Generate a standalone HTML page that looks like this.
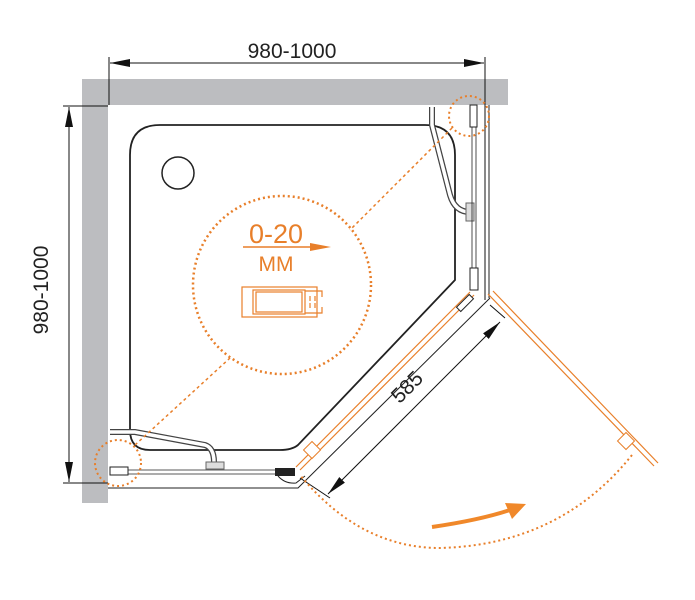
<!DOCTYPE html>
<html><head><meta charset="utf-8"><style>body{margin:0;background:#fff}svg{display:block}</style></head><body>
<svg width="695" height="600" viewBox="0 0 695 600" xmlns="http://www.w3.org/2000/svg" font-family="Liberation Sans, sans-serif">
<defs>
<marker id="a" viewBox="0 0 20 8" refX="20" refY="4" markerWidth="20" markerHeight="8" markerUnits="userSpaceOnUse" orient="auto-start-reverse"><path d="M0,0L20,4L0,8Z" fill="#111"/></marker>
</defs>
<rect x="82" y="79" width="426" height="26" fill="#bcbdc0"/>
<rect x="82" y="79" width="26" height="424" fill="#bcbdc0"/>
<line x1="109" y1="57" x2="109" y2="105" stroke="#111" stroke-width="1"/>
<line x1="485" y1="57" x2="485" y2="300" stroke="#111" stroke-width="1"/>
<line x1="110" y1="63" x2="484" y2="63" stroke="#111" stroke-width="1" marker-start="url(#a)" marker-end="url(#a)"/>
<text x="292" y="58" font-size="21" text-anchor="middle" fill="#222">980-1000</text>
<line x1="63" y1="106" x2="108" y2="106" stroke="#111"/>
<line x1="63" y1="483" x2="108" y2="483" stroke="#111"/>
<line x1="69" y1="107" x2="69" y2="482" stroke="#111" marker-start="url(#a)" marker-end="url(#a)"/>
<text transform="translate(48,290) rotate(-90)" font-size="21" text-anchor="middle" fill="#222">980-1000</text>
<path d="M160,125 L425,125 Q455,125 455,155 L455,280 L298,445 Q292,450 280,450 L150,450 Q130,450 130,430 L130,155 Q130,125 160,125 Z" fill="none" stroke="#222" stroke-width="1.8"/>
<circle cx="178" cy="173" r="16" fill="none" stroke="#222" stroke-width="1.5"/>
<path d="M432,107 L432,125 L450,195 Q455,212 470,212" fill="none" stroke="#444" stroke-width="6"/>
<path d="M432,107 L432,125 L450,195 Q455,212 470,212" fill="none" stroke="#fff" stroke-width="3.5"/>
<rect x="466" y="203" width="8" height="18" fill="#ddd" stroke="#666"/>
<path d="M110,432 L135,432 L205,445 Q214,448 214,462" fill="none" stroke="#444" stroke-width="6"/>
<path d="M110,432 L135,432 L205,445 Q214,448 214,462" fill="none" stroke="#fff" stroke-width="3.5"/>
<rect x="206" y="462" width="18" height="7" fill="#ddd" stroke="#666"/>
<line x1="472" y1="106" x2="472" y2="275" stroke="#222" stroke-width="0.8"/>
<line x1="476" y1="106" x2="476" y2="275" stroke="#222" stroke-width="0.8"/>
<rect x="470" y="105" width="7" height="22" fill="#fff" stroke="#222"/>
<rect x="470" y="268" width="8" height="22" fill="#fff" stroke="#222"/>
<line x1="489" y1="105" x2="489" y2="298" stroke="#222"/>
<line x1="110" y1="470" x2="285" y2="470" stroke="#222" stroke-width="0.8"/>
<line x1="110" y1="474" x2="285" y2="474" stroke="#222" stroke-width="0.8"/>
<rect x="110" y="467" width="18" height="8" fill="#fff" stroke="#222"/>
<rect x="275" y="468" width="20" height="8" fill="#222"/>
<path d="M108,488 L298,488 L490,298" fill="none" stroke="#222"/>
<path d="M278,476 Q285,484 296,483 L305,476" fill="none" stroke="#222"/>
<line x1="296" y1="467" x2="470" y2="292" stroke="#e87f2a" stroke-width="1.2"/>
<line x1="300" y1="470" x2="474" y2="295" stroke="#e87f2a" stroke-width="1.2"/>
<rect x="306" y="444" width="12" height="12" fill="#fff" stroke="#e87f2a" transform="rotate(45 312 450)"/>
<rect x="456" y="300" width="18" height="6" fill="#fff" stroke="#222" transform="rotate(-45 465 303)"/>
<line x1="300" y1="478" x2="330" y2="498" stroke="#111"/>
<line x1="490" y1="305" x2="505" y2="318" stroke="#111"/>
<line x1="328" y1="494" x2="500" y2="322" stroke="#111" marker-start="url(#a)" marker-end="url(#a)"/>
<text transform="translate(412,392) rotate(-45)" font-size="21" text-anchor="middle" fill="#222">585</text>
<line x1="488" y1="294" x2="654" y2="466" stroke="#e87f2a" stroke-width="1.2"/>
<line x1="493" y1="291" x2="658" y2="463" stroke="#e87f2a" stroke-width="1.2"/>
<rect x="620" y="435" width="12" height="12" fill="#fff" stroke="#e87f2a" transform="rotate(45 626 441)"/>
<path d="M632,455 Q560,545 440,548 Q360,548 300,475" fill="none" stroke="#e87f2a" stroke-width="2" stroke-dasharray="2,3"/>
<path d="M432,527 Q480,520 510,510" fill="none" stroke="#f0882a" stroke-width="4"/>
<path d="M526,504 L505,503 L512,519 Z" fill="#f0882a"/>
<circle cx="282" cy="285" r="89" fill="none" stroke="#e87f2a" stroke-width="2.5" stroke-dasharray="2,3"/>
<circle cx="469" cy="116" r="20" fill="none" stroke="#e87f2a" stroke-width="2" stroke-dasharray="2,3"/>
<circle cx="118" cy="463" r="23" fill="none" stroke="#e87f2a" stroke-width="2" stroke-dasharray="2,3"/>
<line x1="452" y1="128" x2="350" y2="230" stroke="#e87f2a" stroke-width="1.5" stroke-dasharray="3,3"/>
<line x1="135" y1="445" x2="230" y2="358" stroke="#e87f2a" stroke-width="1.5" stroke-dasharray="3,3"/>
<text x="276" y="243" font-size="27" text-anchor="middle" fill="#e87f2a">0-20</text>
<line x1="243" y1="247" x2="320" y2="247" stroke="#e87f2a" stroke-width="1.5"/>
<path d="M310,243 L331,247 L310,251 Z" fill="#e87f2a"/>
<text x="276" y="271" font-size="21" text-anchor="middle" fill="#e87f2a">MM</text>
<g fill="none" stroke="#e87f2a" stroke-width="1.2">
<rect x="242" y="287" width="75" height="30"/>
<rect x="253" y="290" width="52" height="24"/>
<rect x="256" y="292" width="46" height="20"/>
<path d="M305,291 h17 v6 M305,313 h17 v-6 M310,296 v5 M315,296 v5 M310,303 v5 M315,303 v5"/>
</g>
</svg>
</body></html>
